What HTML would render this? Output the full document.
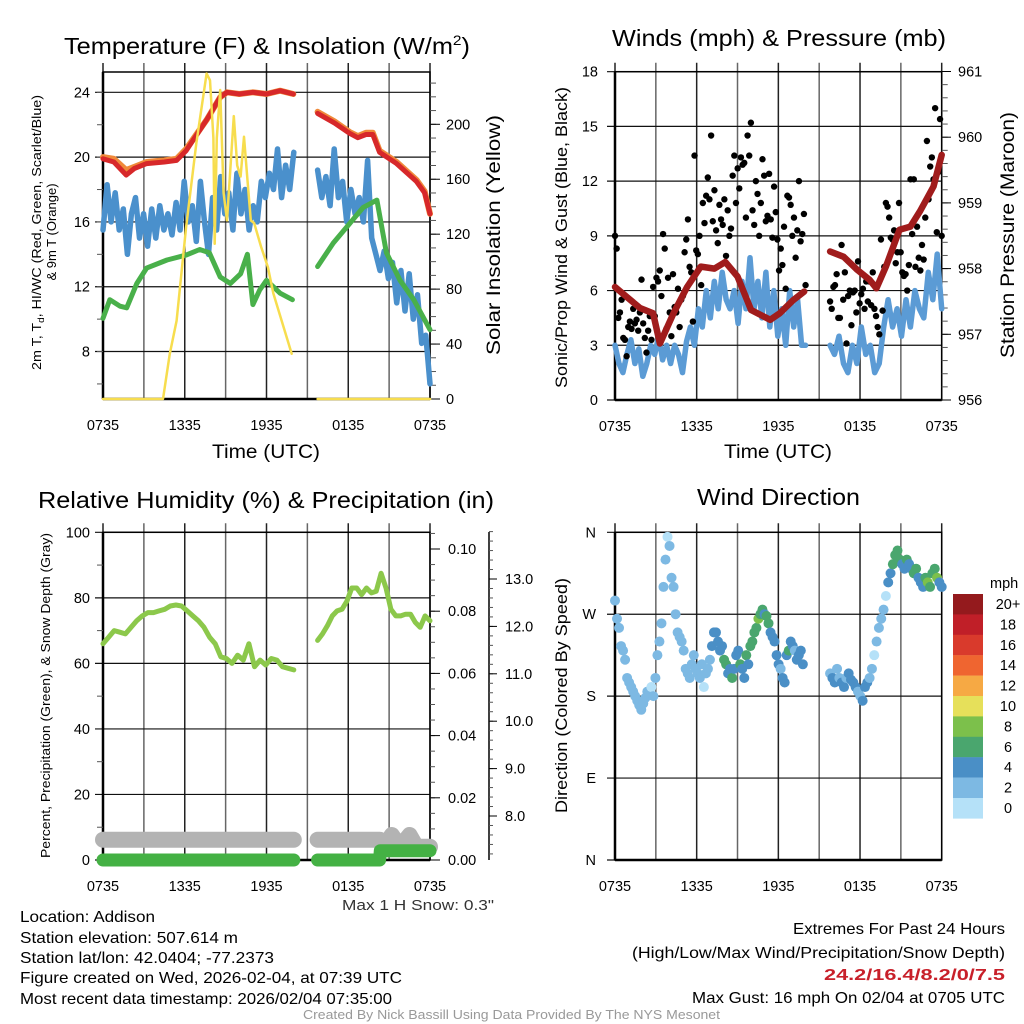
<!DOCTYPE html>
<html><head><meta charset="utf-8"><style>
html,body{margin:0;padding:0;background:#fff;}
svg{display:block;font-family:"Liberation Sans",sans-serif;}
</style></head><body>
<svg id="fig" width="1024" height="1024" viewBox="0 0 1024 1024" xmlns="http://www.w3.org/2000/svg">
<rect x="0" y="0" width="1024" height="1024" fill="#fff"/>
<g id="g1"></g>
<g id="g2"></g>
<g id="g3"></g>
<g id="g4"></g>
<text x="64" y="54" font-size="23" textLength="406" lengthAdjust="spacingAndGlyphs">Temperature (F) &amp; Insolation (W/m<tspan font-size="14" dy="-9">2</tspan><tspan dy="9">)</tspan></text>
<text x="612" y="46" font-size="23" textLength="334" lengthAdjust="spacingAndGlyphs">Winds (mph) &amp; Pressure (mb)</text>
<text x="38" y="508" font-size="23" textLength="456" lengthAdjust="spacingAndGlyphs">Relative Humidity (%) &amp; Precipitation (in)</text>
<text x="697" y="505" font-size="23" textLength="163" lengthAdjust="spacingAndGlyphs">Wind Direction</text>
<text x="212" y="458" font-size="19" textLength="108" lengthAdjust="spacingAndGlyphs">Time (UTC)</text>
<text x="724" y="458" font-size="19" textLength="108" lengthAdjust="spacingAndGlyphs">Time (UTC)</text>
<text transform="translate(41,370) rotate(-90)" font-size="13" textLength="275" lengthAdjust="spacingAndGlyphs">2m T, T<tspan font-size="9" dy="3">d</tspan><tspan dy="-3">, HI/WC (Red, Green, Scarlet/Blue)</tspan></text>
<text transform="translate(56,232) rotate(-90)" font-size="13" text-anchor="middle">&amp; 9m T (Orange)</text>
<text transform="translate(500,355) rotate(-90)" font-size="19" textLength="240" lengthAdjust="spacingAndGlyphs">Solar Insolation (Yellow)</text>
<text transform="translate(567,388) rotate(-90)" font-size="17" textLength="301" lengthAdjust="spacingAndGlyphs">Sonic/Prop Wind &amp; Gust (Blue, Black)</text>
<text transform="translate(1014,358) rotate(-90)" font-size="19" textLength="246" lengthAdjust="spacingAndGlyphs">Station Pressure (Maroon)</text>
<text transform="translate(50,858) rotate(-90)" font-size="13" textLength="325" lengthAdjust="spacingAndGlyphs">Percent, Precipitation (Green), &amp; Snow Depth (Gray)</text>
<text transform="translate(567,813) rotate(-90)" font-size="17" textLength="235" lengthAdjust="spacingAndGlyphs">Direction (Colored By Speed)</text>
<text x="342" y="910" font-size="15" textLength="152" lengthAdjust="spacingAndGlyphs" fill="#333">Max 1 H Snow: 0.3"</text>
<g font-size="16">
<text x="20" y="922" textLength="135" lengthAdjust="spacingAndGlyphs">Location: Addison</text>
<text x="20" y="943" textLength="218" lengthAdjust="spacingAndGlyphs">Station elevation: 507.614 m</text>
<text x="20" y="963" textLength="254" lengthAdjust="spacingAndGlyphs">Station lat/lon: 42.0404; -77.2373</text>
<text x="20" y="983" textLength="382" lengthAdjust="spacingAndGlyphs">Figure created on Wed, 2026-02-04, at 07:39 UTC</text>
<text x="20" y="1004" textLength="372" lengthAdjust="spacingAndGlyphs">Most recent data timestamp: 2026/02/04 07:35:00</text>
</g>
<g font-size="16">
<text x="793" y="934" textLength="212" lengthAdjust="spacingAndGlyphs">Extremes For Past 24 Hours</text>
<text x="632" y="958" textLength="373" lengthAdjust="spacingAndGlyphs">(High/Low/Max Wind/Precipitation/Snow Depth)</text>
<text x="824" y="980" fill="#c8202a" font-weight="bold" textLength="181" lengthAdjust="spacingAndGlyphs">24.2/16.4/8.2/0/7.5</text>
<text x="692" y="1003" textLength="313" lengthAdjust="spacingAndGlyphs">Max Gust: 16 mph On 02/04 at 0705 UTC</text>
</g>
<text x="303" y="1019" font-size="13" textLength="417" lengthAdjust="spacingAndGlyphs" fill="#999">Created By Nick Bassill Using Data Provided By The NYS Mesonet</text>
</svg>
<script>
// ---- data (hours since 0735 UTC) ----
const xTickLabels=["0735","1335","1935","0135","0735"];
const tempTickLabels=[8,12,16,20,24];
const solarTickLabels=[0,40,80,120,160,200];
const windTickLabels=[0,3,6,9,12,15,18];
const presTickLabels=[956,957,958,959,960,961];
const rhTickLabels=[0,20,40,60,80,100];
const precipTickLabels=[0.00,0.02,0.04,0.06,0.08,0.10];
const snowTickLabels=[8.0,9.0,10.0,11.0,12.0,13.0];
const dirTickLabels=["N","E","S","W","N"];
const dirTickValues=[0,90,180,270,360];
const speedBins=["0","2","4","6","8","10","12","14","16","18","20+"];
const speedColors=["#b5e1f8","#7db9e3","#4a8fc6","#4aa66e","#7cc04b","#e6e05a","#f6a944","#ef6530","#d93a2c","#c01f28","#941a1d"];

const tempT1=[0,0.8,1.7,2.3,3.2,4.5,5.4,6.1,7.6,8.6,9.1,10,11,12,13,13.97];
const tempV1=[19.9,19.7,18.9,19.3,19.6,19.7,19.8,20.4,22.3,23.7,24.0,23.9,24.0,23.9,24.1,23.9];
const tempT2=[15.75,17,18.1,18.7,19.3,19.8,20.3,21.55,23,23.6,24];
const tempV2=[22.7,22.1,21.47,21.2,21.4,21.4,20.3,19.6,18.5,17.8,16.5];
const t9mV1=[20.0,19.9,19.2,19.4,19.7,19.8,19.9,20.5,22.3,23.7,24.0,23.9,24.0,23.9,24.1,23.9];
const t9mV2=[22.8,22.2,21.55,21.3,21.5,21.5,20.4,19.7,18.6,17.9,16.5];
const dewT1=[0,0.5,1.25,1.74,2.48,3.2,4.7,6.1,7.1,7.8,8.6,9.35,10.1,10.6,11.0,11.5,12,13,13.9];
const dewV1=[10.05,11.2,10.8,10.7,12.2,13.15,13.65,13.95,14.3,14.1,12.6,12.2,12.8,14.0,10.9,11.8,12.4,11.6,11.2];
const dewT2=[15.75,16.9,18.1,19.1,20.1,20.8,21.8,22.8,24];
const dewV2=[13.25,14.7,15.9,16.9,17.35,14.1,12.4,11.2,9.35];
const hiwcV1=[15.5,18.3,16,17.8,15.5,16.8,14,16.5,17.5,15,16.5,14.5,16.8,15,17,15.5,16.5,15.2,17.2,15.5,18.5,16,17,14.8,18.5,16,14,17.5,15.5,18.8,16.5,17.8,15.5,19,16.5,18,15.5,17,16,18.5,17.5,19,18,20.5,17.5,19.5,18,20.3];
const hiwcV2=[19.2,17.5,18.8,17,20.5,17.5,18.5,16,18,16.5,17.5,16,19.8,15,14,13,14.2,12.5,13.5,11,13,10.5,12.8,10,11.5,8.5,9,6];
const solarT=[0,4.4,4.9,5.4,6.1,6.85,7.6,7.85,8.1,8.2,8.35,8.6,8.85,9.1,9.6,9.85,10.1,10.35,10.6,10.85,11.1,11.6,12.1,12.5,13.85];
const solarV=[0,0,33,57,125,186,237,232,190,113,190,225,150,130,206,170,162,191,160,130,128,111,96,77,33];
const solarT2=[15.75,24];
const solarV2=[0,0];

const presT1=[0,0.86,1.84,2.8,3.3,4.3,5.3,6.3,7.3,8.1,9.0,10.0,11.4,12.1,13.1,13.9];
const presV1=[957.72,957.57,957.40,957.32,956.86,957.32,957.72,958.03,958.0,958.1,957.88,957.37,957.22,957.32,957.52,957.65];
const presT2=[15.8,16.8,17.8,18.7,19.2,19.9,20.9,21.7,22.4,23.4,24];
const presV2=[958.26,958.18,957.98,957.83,957.70,958.03,958.59,958.64,958.87,959.25,959.73];
const windV1=[3,2,1.5,2.5,3.3,2,2.8,1.3,2,3,2.5,3.5,2.2,3,2,3,2.5,1.5,3.2,4,3,5,4,6,4.5,6.5,5,7,5.5,5,6,4.2,6.5,5,7.8,5,6.5,4.5,7,4,6,3.5,5,3,6,4,5.5,3,3];
const windV2=[3,2.5,3.5,2,1.5,3,2,4,2.5,3,1.5,2,4,5.5,4,5,3.5,5.5,4,6,5,4.5,7,5.5,8,5];
const gustV1=[9,8.3,4.5,4.8,5.5,3.4,3.3,2.4,4,4.3,3.9,5,4.2,4.4,3.8,4.8,6.6,4.2,3.4,2.6,3.8,4.6,3.3,6.2,4.6,6.7,6.5,7.1,5.7,9.1,8.3,3.9,6.7,4.8,3.5,6.9,5.1,4.8,6.1,4.0,5.5,5.7,8.1,8.8,9.9,7.3,7.0,4.3,13.4,8.2,8.0,9.0,6.3,10.8,9.7,11.2,12.2,11.0,14.5,9.8,11.5,9.3,8.6,10.7,9.9,9.6,11.0,7.9,10.4,9.0,9.4,12.3,13.4,10.8,12.7,11.6,13.3,12.9,13.0,10.0,14.5,13.4,15.2,10.4,9.6,12.0,11.3,9.0,10.8,13.2,12.3,9.8,10.1,12.4,9.9,8.9,11.7,10.3,8.8,7.1,8.3,7.4,9.5,6.1,11.2,11.1,10.7,9.0,10.0,7.8,9.3,12.0,8.7,9.1,10.2,6.3];
const gustV2=[5.4,5.0,6.2,6.3,6.9,4.5,4.5,8.5,5.5,7.0,3.1,5.7,6.0,4.1,5.9,6.0,4.8,7.6,5.3,5.8,6.1,5.0,6.5,5.4,6.5,5.2,7.0,5.0,4.6,4.0,3.6,8.8,4.9,7.3,10.8,10.6,10.0,8.9,8.8,9.3,7.5,8.1,10.8,8.1,7.0,6.8,6.9,6.0,7.4,12.1,9.1,12.1,7.3,9.5,7.8,7.1,8.5,7.7,10.0,14.2,11.0,12.8,13.3,12.1,16.0,9.2,12.5,15.4,9.0];

const rhV1=[66,68,70,69.5,69,71,73,74.5,75.5,75.5,76,76.5,77.5,77.8,77.5,76,74.5,73,71,68,66,62,61.5,60,62.5,61,66,59,61,59.5,61.5,61,59,58.5,58];
const rhV2=[67,69,71.5,74.5,76,76.5,79,83,83,81,83,81.5,82,87.5,83,76.5,74.5,74.5,75,75,72.5,71,74.5,73];
const snowT=[0,14,15.75,20.3,20.6,21.2,21.8,22.5,23.0,23.6,24];
const snowV=[7.5,7.5,7.5,7.5,7.35,7.6,7.35,7.6,7.35,7.35,7.35];
const precipT=[0,14,15.75,20.3,20.35,24];
const precipV=[0,0,0,0,0.003,0.003];

const dirV1=[285,265,255,235,230,220,200,195,190,185,180,175,170,165,172,178,185,182,190,180,200,225,240,260,300,330,355,345,310,300,270,250,245,240,230,210,205,200,215,225,210,205,200,215,190,205,210,220,235,250,250,240,230,235,220,215,205,210,200,210,225,230,215,210,200,225,215,235,240,250,255,265,270,275,270,268,260,250,245,240,225,215,210,200,195,225,230,240,235,230,220,225,230,215];
const spdV1=[2,2,2,2,2,2,2,2,2,2,2,2,2,2,2,2,2,2,0,2,2,2,2,2,2,2,0,2,2,2,2,2,2,2,2,2,2,2,2,2,2,2,2,2,0,2,2,2,4,4,4,5,4,4,6,6,4,4,6,4,4,4,6,4,4,6,4,6,7,6,6,8,6,6,4,6,6,4,4,4,4,4,2,4,4,4,6,4,4,2,4,4,4,4];
const dirV2=[205,200,195,210,200,195,190,200,205,198,195,190,185,180,175,190,195,200,210,225,240,255,265,275,290,305,315,325,335,340,330,325,320,330,325,320,315,320,310,305,300,310,305,300,315,320,310,305,300];
const spdV2=[2,4,4,2,2,4,4,2,4,4,4,4,2,2,4,4,4,2,2,0,2,2,2,2,0,4,4,6,6,6,6,4,4,6,4,4,6,6,4,4,4,6,8,6,6,6,8,4,4];

// ---- scales ----
const X1=t=>103+t*327/24;
const Y1T=v=>399-(v-5.07)*16.2;
const Y1S=v=>399-v*1.3735;
const X2=t=>615+t*326.7/24;
const Y2W=v=>400-v*18.24;
const Y2P=p=>400-(p-956)*65.7;
const Y3=v=>860-v*3.277;
const Y3P=v=>860-v*3110;
const Y3S=v=>816-(v-8)*47.4;
const Y4=d=>860-d*0.9103;

const NS="http://www.w3.org/2000/svg";
function mk(parent,tag,attrs){const e=document.createElementNS(NS,tag);for(const k in attrs)e.setAttribute(k,attrs[k]);parent.appendChild(e);return e;}
function even(n,a,b,i){return n>1?a+(b-a)*i/(n-1):a;}
function pathFrom(ts,vs,xf,yf){return vs.map((v,i)=>(i?"L":"M")+xf(ts[i]).toFixed(1)+","+yf(v).toFixed(1)).join("");}
function evenPath(vs,a,b,xf,yf){return vs.map((v,i)=>(i?"L":"M")+xf(even(vs.length,a,b,i)).toFixed(1)+","+yf(v).toFixed(1)).join("");}

function frame(g,x0,x1,y0,y1,hGrid,xf){
  for(let h=0;h<=24;h+=3){const x=xf(h);
    const l=mk(g,"line",{x1:x,x2:x,y1:y0-9,y2:y1,stroke:(h%6==0)?"#222":"#666","stroke-width":1.5});
    
    }
  hGrid.forEach(y=>{const l=mk(g,"line",{x1:x0-8,x2:x1,y1:y,y2:y,stroke:"#111","stroke-width":1.2});
    
    });
  const r=mk(g,"rect",{x:x0,y:y0,width:x1-x0,height:y1-y0,fill:"none",stroke:"#000","stroke-width":1.5});
  
  
  mk(g,"line",{x1:x0,x2:x0,y1:y0,y2:y1,stroke:"#000","stroke-width":2.5});
  mk(g,"line",{x1:x0,x2:x1,y1:y1,y2:y1,stroke:"#000","stroke-width":2.5});
  xTickLabels.forEach((s,i)=>{const t=mk(g,"text",{x:xf(i*6),y:y1+31,"font-size":14.5,"text-anchor":"middle"});t.textContent=s;
    
    });
}
function label(g,x,y,s,anchor,size){const t=mk(g,"text",{x:x,y:y+5,"font-size":size||14.5,"text-anchor":anchor});t.textContent=s;return t;}
function minor(g,x,yA,yB,step,yf,dir,len){for(let v=yA;v<=yB+1e-9;v+=step){const y=yf(v);mk(g,"line",{x1:x,x2:x+dir*len,y1:y,y2:y,stroke:"#555","stroke-width":1});}}

// ---- panel 1 ----
const g1=document.getElementById("g1");
frame(g1,103,430,72,399,tempTickLabels.map(Y1T),X1);
minor(g1,103,6,24,2,Y1T,-1,6);
minor(g1,430,0,230,10,Y1S,1,6);
tempTickLabels.forEach(v=>{const t=label(g1,90,Y1T(v),String(v),"end");
  
  });
solarTickLabels.forEach(v=>{mk(g1,"line",{x1:430,x2:440,y1:Y1S(v),y2:Y1S(v),stroke:"#000"});const t=label(g1,446,Y1S(v),String(v),"start");
  
  });
function series(g,d,col,w,name){const p=mk(g,"path",{d:d,fill:"none",stroke:col,"stroke-width":w,"stroke-linejoin":"round","stroke-linecap":"round"});
  
  return p;}
series(g1,evenPath(hiwcV1,0,14,X1,Y1T),"#4a90cc",5.5,"hiwc-line-1");
series(g1,evenPath(hiwcV2,15.75,24,X1,Y1T),"#4a90cc",5.5,"hiwc-line-2");
series(g1,pathFrom(dewT1,dewV1,X1,Y1T),"#49b04a",5,"dewpoint-line-1");
series(g1,pathFrom(dewT2,dewV2,X1,Y1T),"#49b04a",5,"dewpoint-line-2");
series(g1,pathFrom(tempT1,t9mV1,X1,Y1T),"#f08a3a",6,"temp-9m-line-1");
series(g1,pathFrom(tempT2,t9mV2,X1,Y1T),"#f08a3a",6,"temp-9m-line-2");
series(g1,pathFrom(tempT1,tempV1,X1,Y1T),"#d7282a",5,"temp-2m-line-1");
series(g1,pathFrom(tempT2,tempV2,X1,Y1T),"#d7282a",5,"temp-2m-line-2");
series(g1,pathFrom(solarT,solarV,X1,Y1S),"#f7dd4e",2.5,"solar-line-1");
series(g1,pathFrom(solarT2,solarV2,X1,Y1S),"#f7dd4e",2.5,"solar-line-2");

// ---- panel 2 ----
const g2=document.getElementById("g2");
frame(g2,615,941.7,71.7,400,windTickLabels.map(Y2W),X2);
minor(g2,941.7,956,961,0.2,Y2P,1,6);
windTickLabels.forEach(v=>{const t=label(g2,598,Y2W(v),String(v),"end");
  
  });
presTickLabels.forEach(v=>{mk(g2,"line",{x1:941.7,x2:951,y1:Y2P(v),y2:Y2P(v),stroke:"#000"});const t=label(g2,958,Y2P(v),String(v),"start");
  
  });
series(g2,evenPath(windV1,0,14,X2,Y2W),"#5b9bd5",5.5,"wind-line-1");
series(g2,evenPath(windV2,15.8,24,X2,Y2W),"#5b9bd5",5.5,"wind-line-2");
[[gustV1,0,14],[gustV2,15.8,24]].forEach(([vs,a,b])=>vs.forEach((v,i)=>{
  const c=mk(g2,"circle",{cx:X2(even(vs.length,a,b,i)),cy:Y2W(v),r:3.2,fill:"#000"});
  
  }));
series(g2,pathFrom(presT1,presV1,X2,Y2P),"#a01c1c",6.5,"pressure-line-1");
series(g2,pathFrom(presT2,presV2,X2,Y2P),"#a01c1c",6.5,"pressure-line-2");

// ---- panel 3 ----
const g3=document.getElementById("g3");
frame(g3,103,430,532.3,860,rhTickLabels.map(Y3),X1);
minor(g3,103,10,90,20,Y3,-1,6);
minor(g3,430,0,0.105,0.005,Y3P,1,5);
rhTickLabels.forEach(v=>{const t=label(g3,90,Y3(v),String(v),"end");
  
  });
precipTickLabels.forEach(v=>{mk(g3,"line",{x1:430,x2:440,y1:Y3P(v),y2:Y3P(v),stroke:"#000"});const t=label(g3,448,Y3P(v),v.toFixed(2),"start");
  
  });
const sax=mk(g3,"line",{x1:489,x2:489,y1:532,y2:860,stroke:"#000","stroke-width":1.5});


minor(g3,489,7.2,14,0.2,Y3S,1,4);
snowTickLabels.forEach(v=>{mk(g3,"line",{x1:489,x2:497,y1:Y3S(v),y2:Y3S(v),stroke:"#000"});const t=label(g3,505,Y3S(v),v.toFixed(1),"start");
  
  });
series(g3,pathFrom(snowT.slice(0,2),snowV.slice(0,2),X1,Y3S),"#b3b3b3",16,"snow-depth-line-1");
series(g3,pathFrom(snowT.slice(2),snowV.slice(2),X1,Y3S),"#b3b3b3",16,"snow-depth-line-2");
series(g3,pathFrom(precipT.slice(0,2),precipV.slice(0,2),X1,Y3P),"#44b144",13,"precip-line-1");
series(g3,pathFrom(precipT.slice(2),precipV.slice(2),X1,Y3P),"#44b144",13,"precip-line-2");
series(g3,evenPath(rhV1,0,14,X1,Y3),"#8cc84b",5,"rh-line-1");
series(g3,evenPath(rhV2,15.75,24,X1,Y3),"#8cc84b",5,"rh-line-2");

// ---- panel 4 ----
const g4=document.getElementById("g4");
frame(g4,615,941.7,532.3,860,dirTickValues.map(Y4),X2);
dirTickLabels.forEach((s,i)=>{const t=label(g4,596,Y4(dirTickValues[i]),s,"end");
  
  });
[[dirV1,spdV1,0,13.8],[dirV2,spdV2,15.8,24]].forEach(([ds,ss,a,b])=>ds.forEach((d,i)=>{
  const bin=Math.min(10,Math.floor(ss[i]/2));
  const c=mk(g4,"circle",{cx:X2(even(ds.length,a,b,i)),cy:Y4(d),r:5,fill:speedColors[bin]});
  
  }));
const cb=mk(g4,"g",{});


const mph=mk(cb,"text",{x:990,y:588,"font-size":14.5});mph.textContent="mph";
speedBins.slice().reverse().forEach((s,i)=>{const y=594+i*20.4;const idx=10-i;
  const r=mk(cb,"rect",{x:953,y:y,width:30,height:20.6,fill:speedColors[idx]});
  
  
  const t=mk(cb,"text",{x:1008,y:y+15,"font-size":14.5,"text-anchor":"middle"});t.textContent=s;});
</script>
</body></html>
